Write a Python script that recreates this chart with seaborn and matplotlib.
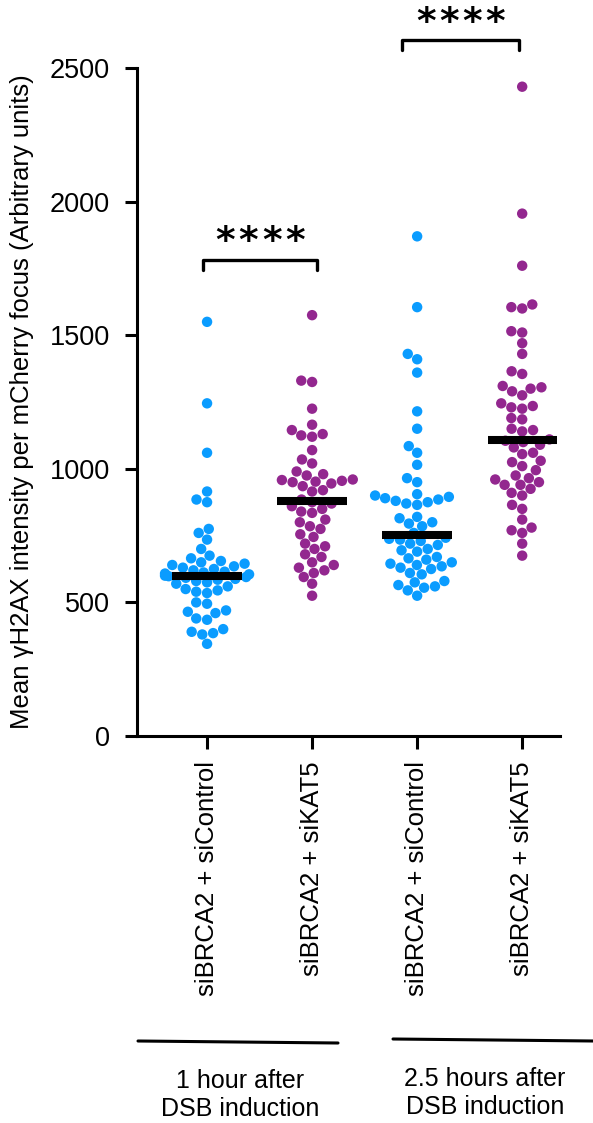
import numpy as np
import pandas as pd
import seaborn as sns
import matplotlib.pyplot as plt
from matplotlib.lines import Line2D

# values (arbitrary units)
ctrl_1h = [1550, 1245, 1060, 915, 885, 875, 775, 760, 735, 700, 675, 665, 655, 650, 645,
           640, 635, 630, 625, 620, 615, 612, 608, 605, 600, 598, 595, 592, 588, 585,
           580, 575, 570, 560, 550, 545, 540, 535, 500, 495, 470, 465, 460, 440, 435,
           400, 390, 385, 380, 345]
kat5_1h = [1575, 1330, 1325, 1225, 1165, 1145, 1130, 1125, 1120, 1070, 1035, 1020, 990,
           980, 975, 960, 958, 955, 952, 950, 945, 935, 920, 915, 885,
           875, 870, 860, 850, 840, 835, 810, 800, 785, 775, 755, 745, 720, 710, 700,
           680, 670, 650, 640, 630, 620, 610, 595, 570, 525]
ctrl_25h = [1870, 1605, 1430, 1410, 1360, 1215, 1150, 1085, 1060, 1015, 965, 950, 905,
            900, 895, 890, 885, 880, 875, 870, 865, 820, 815, 800, 795, 785, 760,
            742, 738, 735, 730, 720, 715, 700, 695, 690, 670, 665, 660, 650, 645, 640,
            635, 630, 625, 610, 605, 580, 575, 565, 560, 555, 525, 545]
kat5_25h = [2430, 1955, 1760, 1615, 1605, 1600, 1515, 1510, 1470, 1430, 1365, 1355, 1310,
            1305, 1300, 1290, 1275, 1245, 1235, 1230, 1225, 1190, 1185, 1150, 1145, 1140,
            1110, 1105, 1100, 1090, 1080, 1060, 1055, 1030, 1025, 1010, 995, 975, 965,
            960, 950, 940, 940, 925, 910, 900, 865, 850, 810, 780, 770, 760, 720, 675]

conditions = ['siBRCA2 + siControl ', 'siBRCA2 + siKAT5', 'siBRCA2 + siControl', 'siBRCA2 + siKAT5 ']
tick_labels = ['siBRCA2 + siControl', 'siBRCA2 + siKAT5', 'siBRCA2 + siControl', 'siBRCA2 + siKAT5']
colors = ['#0a9cff', '#93278f', '#0a9cff', '#93278f']
groups = ['1 hour after\nDSB induction', '2.5 hours after\nDSB induction']

all_vals = [ctrl_1h, kat5_1h, ctrl_25h, kat5_25h]
df = pd.DataFrame({'condition': np.repeat(conditions, [len(v) for v in all_vals]),
                   'value': np.concatenate(all_vals)})

sns.set_style('ticks')
plt.rcParams['font.family'] = ['Liberation Sans', 'DejaVu Sans']
for k in ['text.color', 'axes.labelcolor', 'xtick.color', 'ytick.color', 'axes.edgecolor']:
    plt.rcParams[k] = 'black'

fig = plt.figure(figsize=(5.93, 11.23), dpi=100)
ax = fig.add_axes([137 / 593, 387 / 1123, 423 / 593, 668 / 1123])

sns.swarmplot(data=df, x='condition', y='value', hue='condition', order=conditions,
              palette=dict(zip(conditions, colors)), size=7.5, linewidth=0,
              legend=False, ax=ax, zorder=2)

# median bars
for i, v in enumerate(all_vals):
    ax.hlines(np.median(v), i - 0.33, i + 0.33, color='black', lw=5.8, zorder=3)

ax.set_ylim(0, 2500)
ax.set_xlim(-0.667, 3.36)
ax.set_yticks([0, 500, 1000, 1500, 2000, 2500])
ax.set_xticks(range(4))
ax.set_xticklabels(tick_labels, rotation=90, fontsize=18.5, va='top')
ax.tick_params(axis='y', labelsize=19.5, length=8.5, width=2.2, pad=11)
ax.tick_params(axis='x', length=9, width=2.2, pad=9)
ax.set_xlabel('')
ax.set_ylabel('Mean γH2AX intensity per mCherry focus (Arbitrary units)', fontsize=18.5, labelpad=11)
for s in ['top', 'right']:
    ax.spines[s].set_visible(False)
for s in ['left', 'bottom']:
    ax.spines[s].set_linewidth(2.2)

# significance brackets
def bracket(x1, x2, y, h, y_star):
    ax.plot([x1, x1, x2, x2], [y - h, y, y, y - h], color='black', lw=2.4,
            clip_on=False, solid_joinstyle='round')
    xc = (x1 + x2) / 2
    for k in range(4):
        ax.text(xc + (k - 1.5) * 0.22, y_star, '*', ha='center', va='baseline',
                fontsize=27, fontweight='bold', family='DejaVu Sans', clip_on=False)

bracket(-0.04, 1.05, 1781, 37, 1810)
bracket(1.86, 2.97, 2605, 38, 2630)

# group lines and labels under the tick labels
fig.add_artist(Line2D([138 / 593, 338 / 593], [1 - 1041 / 1123, 1 - 1043 / 1123],
                      color='black', lw=2.2))
fig.add_artist(Line2D([393 / 593, 593 / 593], [1 - 1039 / 1123, 1 - 1041 / 1123],
                      color='black', lw=2.2))
fig.text(240 / 593, 1 - 1095 / 1123, groups[0], ha='center', va='center', fontsize=18)
fig.text(485 / 593, 1 - 1093 / 1123, groups[1], ha='center', va='center', fontsize=18)

fig.savefig('out.png', dpi=100)
